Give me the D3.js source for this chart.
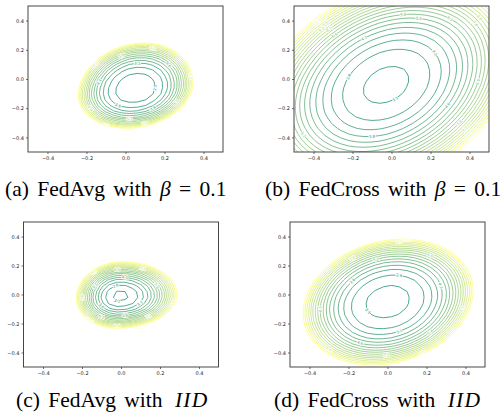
<!DOCTYPE html>
<html><head><meta charset="utf-8">
<script src="https://cdn.jsdelivr.net/npm/d3@7"></script>
<style>body{margin:0;background:#fff} svg{display:block}</style>
</head><body>
<svg id="chart" width="500" height="417"></svg>
<script>
// ---------------- data ----------------
const captionLead   = ["(a) FedAvg with ", "(b) FedCross with ", "(c) FedAvg with ", "(d) FedCross with "];
const captionItalic = ["β", "β", "IID", "IID"];
const captionTail   = [" = 0.1", " = 0.1", "", ""];
const tickValues = [-0.4, -0.2, 0.0, 0.2, 0.4];
const axisDomain = [-0.5, 0.5];
// loss-landscape shape of each panel (centre of the bowl, reach of the outermost contour, tilt)
const centerX     = [0.05, -0.027, -0.009, 0.0];
const centerY     = [-0.07, -0.04, -0.014, -0.05];
const reachLeft   = [0.294, 0.66, 0.221, 0.433];
const reachRight  = [0.296, 0.66, 0.297, 0.44];
const reachTop    = [0.318, 0.72, 0.241, 0.432];
const reachBottom = [0.268, 0.72, 0.22, 0.438];
const tilt        = [0.15, 0.3, 0.05, 0.18];
const sharpness   = [3, 2.6, 2.3, 3];
// contour levels: first level (normalised), number of levels, loss values of the levels
const innerLevel  = [0.044, 0.0114, 0.017, 0.0176];
const levelCount  = [15, 21, 17, 17];
const lossStart   = [2.1, 2.1, 2.1, 2.1];
const lossStep    = [0.5, 0.5, 0.5, 0.5];

// ---------------- layout ----------------
const frames = [
  {x: 28,   y: 6,   w: 195, h: 146},
  {x: 294,  y: 6,   w: 195, h: 146},
  {x: 23.5, y: 222, w: 195, h: 145},
  {x: 290,  y: 222, w: 195, h: 145}
];
const captionPos = [{x: 5, y: 196}, {x: 265, y: 196}, {x: 16, y: 407}, {x: 274, y: 407}];
const captionSize = 21.5;

const gridStep = 0.04, gridMin = -0.62, gridN = 32;

const svg = d3.select("#chart");
const summer = t => d3.rgb(255 * t, 127.5 + 127.5 * t, 102).toString();

function field(p, x, y) {
  const dx = x - centerX[p], dy = y - centerY[p];
  const u = dx / (dx < 0 ? reachLeft[p] : reachRight[p]);
  const v = dy / (dy < 0 ? reachBottom[p] : reachTop[p]);
  const c = tilt[p];
  const q = Math.max(0, (u * u - 2 * c * u * v + v * v) / (1 - c * c));
  return Math.pow(Math.sqrt(q), sharpness[p]);
}

frames.forEach((fr, p) => {
  const g = svg.append("g");
  const xs = d3.scaleLinear().domain(axisDomain).range([fr.x, fr.x + fr.w]);
  const ys = d3.scaleLinear().domain(axisDomain).range([fr.y + fr.h, fr.y]);

  const values = new Array(gridN * gridN);
  for (let j = 0; j < gridN; j++)
    for (let i = 0; i < gridN; i++)
      values[j * gridN + i] = field(p, gridMin + i * gridStep, -gridMin - j * gridStep);

  const n = levelCount[p];
  const levels = d3.range(n).map(k => innerLevel[p] + k * (1 - innerLevel[p]) / (n - 1));
  const contours = d3.contours().size([gridN, gridN]).thresholds(levels)(values);

  const toPx = (gx, gy) => [xs(gridMin + (gx - 0.5) * gridStep), ys(-gridMin - (gy - 0.5) * gridStep)];
  const proj = d3.geoTransform({point: function(x, y) { const q = toPx(x, y); this.stream.point(q[0], q[1]); }});
  const path = d3.geoPath(proj);

  const clipId = "clip" + p;
  g.append("clipPath").attr("id", clipId).append("rect")
    .attr("x", fr.x).attr("y", fr.y).attr("width", fr.w).attr("height", fr.h);

  const lines = g.append("g").attr("clip-path", `url(#${clipId})`);
  lines.selectAll("path").data(contours).join("path")
    .attr("d", path)
    .attr("fill", "none")
    .attr("stroke", (d, k) => summer(k / (n - 1)))
    .attr("stroke-width", 0.7)
    .attr("stroke-linejoin", "round");

  // inline contour labels
  const labelG = g.append("g");
  const placed = [];
  const cpx = [xs(centerX[p]), ys(centerY[p])];
  const margin = 3;
  const inside = pt => pt[0] > fr.x + margin && pt[0] < fr.x + fr.w - margin && pt[1] > fr.y + margin && pt[1] < fr.y + fr.h - margin;
  contours.forEach((ct, k) => {
    const theta = 0.9 * p + k * 2.39996;
    const label = d3.format(".1f")(lossStart[p] + k * lossStep[p]);
    const color = summer(k / (n - 1));
    ct.coordinates.forEach(poly => poly.forEach(ring => {
      const pts = ring.map(r => toPx(r[0], r[1]));
      const flags = pts.map(inside);
      const runs = [];
      if (flags.every(f => f)) runs.push({closed: true, idx: d3.range(pts.length)});
      else {
        let start = flags.findIndex(f => !f);
        let cur = null;
        for (let s = 1; s <= pts.length; s++) {
          const i = (start + s) % pts.length;
          if (flags[i]) { if (!cur) cur = []; cur.push(i); }
          else if (cur) { runs.push({closed: false, idx: cur}); cur = null; }
        }
        if (cur) runs.push({closed: false, idx: cur});
      }
      runs.forEach(run => {
        const idx = run.idx;
        let len = 0;
        for (let m = 1; m < idx.length; m++) len += Math.hypot(pts[idx[m]][0] - pts[idx[m-1]][0], pts[idx[m]][1] - pts[idx[m-1]][1]);
        if (len < 14) return;
        let sel;
        if (run.closed) {
          let best = Infinity;
          idx.forEach((i, m) => {
            const a = Math.atan2(pts[i][1] - cpx[1], pts[i][0] - cpx[0]);
            let dA = Math.abs(((a - theta) % (2 * Math.PI) + 3 * Math.PI) % (2 * Math.PI) - Math.PI);
            if (dA < best) { best = dA; sel = m; }
          });
        } else sel = Math.floor(idx.length / 2);
        const L = idx.length;
        const i0 = idx[run.closed ? (sel - 1 + L) % L : Math.max(0, sel - 1)];
        const i1 = idx[run.closed ? (sel + 1) % L : Math.min(L - 1, sel + 1)];
        const pt = pts[idx[sel]];
        if (placed.some(q => Math.hypot(q[0] - pt[0], q[1] - pt[1]) < 7)) return;
        placed.push(pt);
        let ang = Math.atan2(pts[i1][1] - pts[i0][1], pts[i1][0] - pts[i0][0]) * 180 / Math.PI;
        if (ang > 90) ang -= 180; if (ang < -90) ang += 180;
        labelG.append("text")
          .attr("transform", `translate(${pt[0]},${pt[1]}) rotate(${ang})`)
          .attr("text-anchor", "middle").attr("dy", "0.35em")
          .attr("font-family", "DejaVu Sans").attr("font-size", 3.8)
          .attr("fill", color)
          .attr("stroke", "#fff").attr("stroke-width", 1.5).attr("paint-order", "stroke")
          .text(label);
      });
    }));
  });

  // frame
  g.append("rect").attr("x", fr.x).attr("y", fr.y).attr("width", fr.w).attr("height", fr.h)
    .attr("fill", "none").attr("stroke", "#333").attr("stroke-width", 0.9);

  // axes
  const fmt = d3.format(".1f");
  const xAxis = g.append("g").attr("transform", `translate(0,${fr.y + fr.h})`)
    .call(d3.axisBottom(xs).tickValues(tickValues).tickSize(2).tickPadding(2).tickFormat(fmt));
  const yAxis = g.append("g").attr("transform", `translate(${fr.x},0)`)
    .call(d3.axisLeft(ys).tickValues(tickValues).tickSize(2).tickPadding(2).tickFormat(fmt));
  [xAxis, yAxis].forEach(ax => {
    ax.select(".domain").remove();
    ax.selectAll(".tick line").attr("stroke", "#333").attr("stroke-width", 0.7);
    ax.selectAll(".tick text").attr("font-family", "DejaVu Sans").attr("font-size", 5).attr("fill", "#222");
  });

  // caption
  const cap = svg.append("text").attr("x", captionPos[p].x).attr("y", captionPos[p].y)
    .attr("font-family", "'Liberation Serif', 'Times New Roman', serif").attr("font-size", captionSize)
    .attr("word-spacing", 3).attr("fill", "#000");
  cap.append("tspan").text(captionLead[p]);
  const it = cap.append("tspan").attr("font-style", "italic").text(captionItalic[p]);
  if (captionTail[p]) cap.append("tspan").text(captionTail[p]);
  else it.attr("dx", 4).attr("letter-spacing", 1.2);
});
</script>
</body></html>
